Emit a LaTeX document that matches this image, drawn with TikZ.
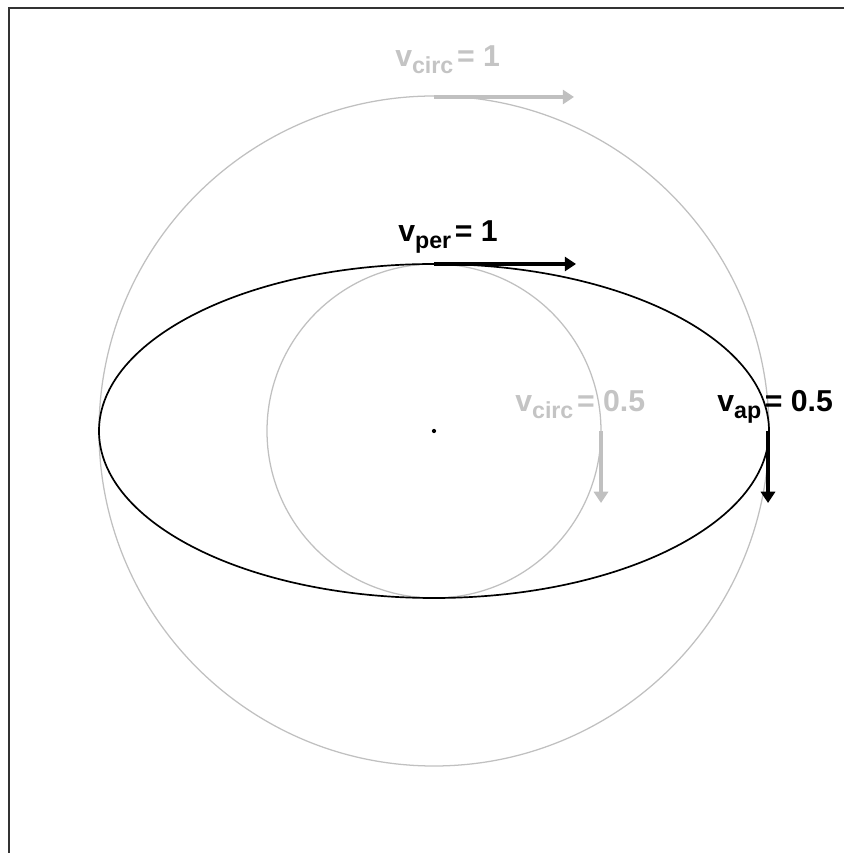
\documentclass[tikz,border=0pt]{standalone}
\usepackage{fontspec}
\setmainfont{Liberation Sans}
\usepackage{xcolor}
\usetikzlibrary{arrows.meta,positioning,calc}
\definecolor{orbitgrey}{HTML}{C0C0C0}
\definecolor{labelgrey}{HTML}{C4C4C4}
\newcommand{\vlab}[2]{v\raisebox{-0.22em}{\fontsize{16.5}{18}\selectfont #1}\hspace{0.12em}= #2}

\begin{document}
\begin{tikzpicture}[x=0.025cm, y=0.025cm,
    circ_orbit/.style={draw=orbitgrey, line width=0.9pt},
    ell_orbit/.style={draw=black, line width=1.2pt},
    vel_arrow/.style={-{Triangle[length=8pt, width=10pt]}, line width=3.4pt},
    vel_label/.style={anchor=base west, inner sep=0pt, font=\fontsize{21.5}{24}\selectfont\bfseries}
]
    \useasboundingbox (-434,-422) rectangle (410,431);
    % Frame
    \draw[line width=1.4pt, draw=black!80] (410,423) -- (-425,423) -- (-425,-422);

    % Orbits
    \node[circle, fill=black, inner sep=0pt, minimum size=3pt] (centre) at (0,0) {};
    \draw[circ_orbit] (centre) circle[radius=335];
    \draw[circ_orbit] (centre) circle[radius=167];
    \draw[ell_orbit] (centre) ellipse[x radius=335, y radius=167];

    % Points on the orbits
    \coordinate (big_top) at (0,334);
    \coordinate (big_tip) at (140,334);
    \coordinate (peri) at (0,167);
    \coordinate (peri_tip) at (142,167);
    \coordinate (small_right) at (167,0);
    \coordinate (small_tip) at (167,-72);
    \coordinate (apo) at (334,0);
    \coordinate (apo_tip) at (334,-72);

    % Velocities
    \draw[vel_arrow, draw=orbitgrey] (big_top) -- (big_tip);
    \draw[vel_arrow, draw=black] (peri) -- (peri_tip);
    \draw[vel_arrow, draw=orbitgrey] (small_right) -- (small_tip);
    \draw[vel_arrow, draw=black] (apo) -- (apo_tip);

    \node[vel_label, text=labelgrey] (lab_circ1) at (-39,364) {\vlab{circ}{1}};
    \node[vel_label] (lab_per) at (-36,189) {\vlab{per}{1}};
    \node[vel_label, text=labelgrey] (lab_circ2) at (81,19) {\vlab{circ}{0.5}};
    \node[vel_label] (lab_ap) at (283,19) {\vlab{ap}{0.5}};
\end{tikzpicture}
\end{document}
